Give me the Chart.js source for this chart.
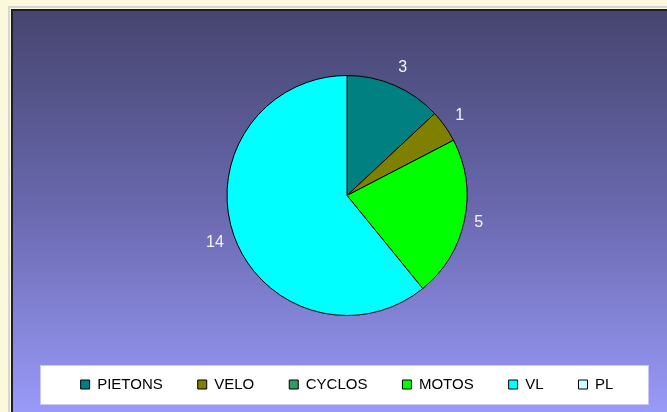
<!DOCTYPE html>
<html>
<head>
<meta charset="utf-8">
<script src="https://cdn.jsdelivr.net/npm/chart.js@4/dist/chart.umd.min.js"></script>
<style>
  html, body { margin: 0; padding: 0; background: #fbf9dc; width: 667px; height: 412px; overflow: hidden; }
  #frame { position: absolute; left: 8px; top: 6px; width: 670px; height: 420px;
           border-top: 2px solid #d6d6d6; border-left: 2px solid #d6d6d6; }
  #wrap { position: absolute; left: 11px; top: 9px; width: 656px; height: 403px;
          border-left: 2px solid #1c1c2c; border-top: 2px solid #1c1c2c;
          background: linear-gradient(to bottom, #46456f 0%, #6a69b0 50%, #9a9afa 100%); }
</style>
</head>
<body>
<div id="frame"></div>
<div id="wrap"><canvas id="pie"></canvas></div>
<script>
const categories = ['PIETONS', 'VELO', 'CYCLOS', 'MOTOS', 'VL', 'PL'];
const values = [3, 1, 0, 5, 14, 0];
const colors = ['#008080', '#808000', '#339966', '#00ff00', '#00ffff', '#ccffff'];

// white box behind the legend + value labels outside the slices
const legendBox = {
  id: 'legendBox',
  beforeDraw(chart) {
    const ctx = chart.ctx;
    ctx.save();
    ctx.fillStyle = '#ffffff';
    ctx.fillRect(27, 354, 608, 39);
    ctx.strokeStyle = '#c8c8f0';
    ctx.strokeRect(27.5, 354.5, 608, 39);
    ctx.restore();
  }
};

const outsideLabels = {
  id: 'outsideLabels',
  afterDatasetsDraw(chart) {
    const ctx = chart.ctx;
    const meta = chart.getDatasetMeta(0);
    ctx.save();
    ctx.font = '16px "Liberation Sans", Arial, sans-serif';
    ctx.fillStyle = '#f4f4f4';
    ctx.textAlign = 'center';
    ctx.textBaseline = 'middle';
    meta.data.forEach((arc, i) => {
      if (!values[i]) return;
      const mid = (arc.startAngle + arc.endAngle) / 2;
      const txt = String(values[i]);
      const w = ctx.measureText(txt).width;
      const dx = Math.cos(mid), dy = Math.sin(mid);
      const r = arc.outerRadius + 8 + Math.abs(dx) * w / 2 + Math.abs(dy) * 11;
      ctx.fillText(txt, arc.x + dx * r, arc.y + dy * r);
    });
    ctx.restore();
  }
};

const canvas = document.getElementById('pie');
canvas.width = 656;
canvas.height = 403;

new Chart(canvas, {
  type: 'pie',
  data: {
    labels: categories,
    datasets: [{
      data: values,
      backgroundColor: colors,
      borderColor: '#000000',
      borderWidth: 1,
      radius: 120
    }]
  },
  options: {
    responsive: false,
    animation: false,
    layout: { padding: { left: 12, top: 38, bottom: 12 } },
    plugins: {
      tooltip: { enabled: false },
      legend: {
        position: 'bottom',
        labels: {
          boxWidth: 9,
          boxHeight: 9,
          padding: 35,
          color: '#000000',
          font: { family: '"Liberation Sans", Arial, sans-serif', size: 15 }
        }
      }
    }
  },
  plugins: [legendBox, outsideLabels]
});
</script>
</body>
</html>
